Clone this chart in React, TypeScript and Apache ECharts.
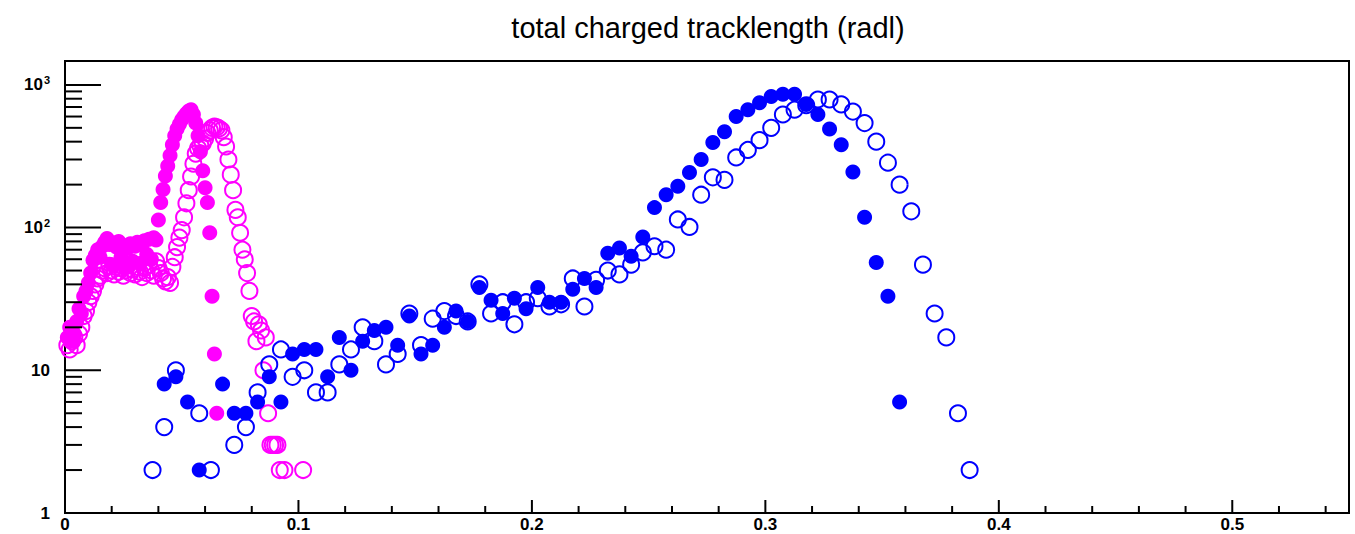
import React, { useEffect, useRef } from 'react';
import * as echarts from 'echarts';

const TITLE = 'total charged tracklength (radl)';
const X_MIN = 0;
const X_MAX = 0.55;
const Y_MIN = 1;
const Y_MAX = 1470;

const xMajorTicks = [0, 0.1, 0.2, 0.3, 0.4, 0.5];
const xTickLabels = ['0', '0.1', '0.2', '0.3', '0.4', '0.5'];
const xMinorTicks = [0.02, 0.04, 0.06, 0.08, 0.12, 0.14, 0.16, 0.18, 0.22, 0.24, 0.26, 0.28, 0.32, 0.34, 0.36, 0.38, 0.42, 0.44, 0.46, 0.48, 0.52, 0.54];
const yMajorTicks = [1, 10, 100, 1000];
const yMinorTicks = [2, 3, 4, 5, 6, 7, 8, 9, 20, 30, 40, 50, 60, 70, 80, 90, 200, 300, 400, 500, 600, 700, 800, 900];

// Magenta histograms: bin width 0.001, first bin centre at 0.001
const magentaBinWidth = 0.001;
const magentaFirstBin = 1;
const magentaFull = [
  17, 20, 16, 18, 22, 27, 25, 33, 36, 41, 48, 59, 64,
  70, 62, 74, 79, 84, 76, 55, 78, 73, 80, 62, 75, 52, 72, 77, 58, 74, 79, 56, 76, 81, 65, 83, 60, 85, 82,
  113, 150, 185, 230, 270, 320, 380, 440, 490, 530, 570, 600, 630, 655, 670, 620, 540, 440, 340, 250, 190, 150, 92, 33, 13, 5,
];
const magentaOpen = [
  15, 14, 16, 17, 15, 18, 20, 24, 26, 30, 33, 36, 40,
  44, 46, 50, 52, 48, 54, 50, 47, 53, 49, 52, 46, 50, 55, 48, 51, 47, 53, 49, 45, 52, 48, 55, 50, 46, 58, 52, 48, 44, 42, 45, 41,
  53, 62, 73, 85, 96, 118, 148, 183, 228, 280, 330, 360, 375, 390, 420, 460, 480, 500,
  510, 505, 495, 480, 430, 370, 300, 235, 183, 133, 118, 92, 70, 60, 48, 36, 24, 22, 16, 21, 19, 10, 17, 5, 3, 3, 3, 3, 2,
  0, 2, 0, 0, 0, 0, 0, 0, 0, 2,
];

// Blue histograms: bin width 0.005, centres at (k + 0.5) * 0.005, first bin k = 7
const blueBinWidth = 0.005;
const blueFirstBin = 7;
const blueFull = [
  0, 8, 9, 6, 2, 0, 8, 5, 5, 6, 9, 6, 13, 14, 14, 9, 17, 10, 16, 19, 20, 15, 24, 13, 15, 20, 26, 22,
  38, 31, 25, 32, 27, 38, 30, 30, 37, 44, 38, 66, 72, 63, 86, 138, 170, 195, 243, 300, 395, 470,
  600, 670, 750, 830, 860, 860, 730, 620, 490, 380, 245, 118, 57, 33, 6,
];
const blueOpen = [
  2, 4, 10, 0, 5, 2, 0, 3, 4, 7, 11, 14, 9, 10, 7, 7, 11, 14, 20, 16, 11, 13, 25, 15, 23, 26, 24, 22,
  40, 25, 30, 21, 30, 32, 28, 29, 44, 28, 43, 50, 47, 55, 67, 74, 70, 114, 101, 170, 225, 216, 310,
  350, 410, 500, 620, 670, 720, 790, 790, 730, 650, 540, 400, 285, 200, 130, 55, 25, 17, 5, 2,
];

const MAGENTA = '#ff00ff';
const BLUE = '#0000ff';
const FONT = '"Liberation Sans", Arial, Helvetica, sans-serif';

function histData(counts: number[], first: number, width: number, offset: number) {
  const out: number[][] = [];
  counts.forEach((c, i) => {
    if (c > 0) out.push([(first + i + offset) * width, c]);
  });
  return out;
}

function fullSeries(name: string, data: number[][], color: string) {
  return {
    name,
    type: 'scatter',
    data,
    symbol: 'circle',
    symbolSize: 15,
    itemStyle: { color, opacity: 1 },
    emphasis: { disabled: true },
    silent: true,
  };
}

function openSeries(name: string, data: number[][], color: string) {
  return {
    name,
    type: 'scatter',
    data,
    symbol: 'circle',
    symbolSize: 16,
    itemStyle: { color: 'rgba(0,0,0,0)', borderColor: color, borderWidth: 2, opacity: 1 },
    emphasis: { disabled: true },
    silent: true,
  };
}

function xTickSeries(ticks: number[], len: number) {
  return {
    type: 'custom',
    silent: true,
    clip: false,
    z: 5,
    data: ticks.map((t) => [t, Y_MIN]),
    renderItem: (_p: any, api: any) => {
      const p = api.coord([api.value(0), Y_MIN]);
      return {
        type: 'line',
        shape: { x1: p[0], y1: p[1], x2: p[0], y2: p[1] - len },
        style: { stroke: '#000', lineWidth: 2 },
      };
    },
  };
}

function yTickSeries(ticks: number[], len: number) {
  return {
    type: 'custom',
    silent: true,
    clip: false,
    z: 5,
    data: ticks.map((t) => [X_MIN, t]),
    renderItem: (_p: any, api: any) => {
      const p = api.coord([X_MIN, api.value(1)]);
      return {
        type: 'line',
        shape: { x1: p[0], y1: p[1], x2: p[0] + len, y2: p[1] },
        style: { stroke: '#000', lineWidth: 2 },
      };
    },
  };
}

export default function App() {
  const ref = useRef<HTMLDivElement>(null);

  useEffect(() => {
    if (!ref.current) return;
    const chart = echarts.init(ref.current, undefined, { renderer: 'svg' });

    const option: any = {
      animation: false,
      backgroundColor: '#ffffff',
      graphic: [
        {
          type: 'text',
          x: 708,
          y: 28,
          style: {
            text: TITLE,
            fill: '#000',
            font: `29px ${FONT}`,
            textAlign: 'center',
            textVerticalAlign: 'middle',
          },
        },
      ],
      grid: {
        left: 65,
        right: 6,
        top: 61,
        bottom: 21,
        show: true,
        borderColor: '#000',
        borderWidth: 2,
        backgroundColor: '#fff',
        containLabel: false,
      },
      xAxis: {
        type: 'value',
        min: X_MIN,
        max: X_MAX,
        interval: 0.1,
        axisLine: { show: true, lineStyle: { color: '#000', width: 2 } },
        axisTick: { show: false },
        splitLine: { show: false },
        axisLabel: {
          margin: 3,
          color: '#000',
          fontSize: 17,
          fontWeight: 'bold',
          fontFamily: FONT,
          showMaxLabel: true,
          formatter: (v: number) => {
            const i = xMajorTicks.findIndex((t) => Math.abs(t - v) < 1e-9);
            return i >= 0 ? xTickLabels[i] : '';
          },
        },
      },
      yAxis: {
        type: 'log',
        logBase: 10,
        min: Y_MIN,
        max: Y_MAX,
        axisLine: { show: true, lineStyle: { color: '#000', width: 2 } },
        axisTick: { show: false },
        splitLine: { show: false },
        minorTick: { show: false },
        axisLabel: {
          margin: 15,
          color: '#000',
          fontFamily: FONT,
          formatter: (v: number) => {
            const e = Math.round(Math.log10(v));
            if (Math.abs(Math.pow(10, e) - v) > 1e-6 * v) return '';
            if (e === 0) return '{b|1}';
            if (e === 1) return '{b|10}';
            return `{b|10}{sup|${e}}`;
          },
          rich: {
            b: { fontSize: 17, fontWeight: 'bold', fontFamily: FONT, color: '#000', lineHeight: 20 },
            sup: { fontSize: 11, fontWeight: 'bold', fontFamily: FONT, color: '#000', verticalAlign: 'top', lineHeight: 20, padding: [0, 0, 4, 1] },
          },
        },
      },
      series: [
        fullSeries('magenta full', histData(magentaFull, magentaFirstBin, magentaBinWidth, 0), MAGENTA),
        openSeries('magenta open', histData(magentaOpen, magentaFirstBin, magentaBinWidth, 0), MAGENTA),
        fullSeries('blue full', histData(blueFull, blueFirstBin, blueBinWidth, 0.5), BLUE),
        openSeries('blue open', histData(blueOpen, blueFirstBin, blueBinWidth, 0.5), BLUE),
        xTickSeries(xMajorTicks, 13),
        xTickSeries(xMinorTicks, 7),
        yTickSeries(yMajorTicks, 36),
        yTickSeries(yMinorTicks, 17),
      ],
    };

    chart.setOption(option);
    return () => chart.dispose();
  }, []);

  return (
    <div
      ref={ref}
      style={{ position: 'fixed', left: 0, top: 0, width: 1355, height: 534, background: '#fff' }}
    />
  );
}
